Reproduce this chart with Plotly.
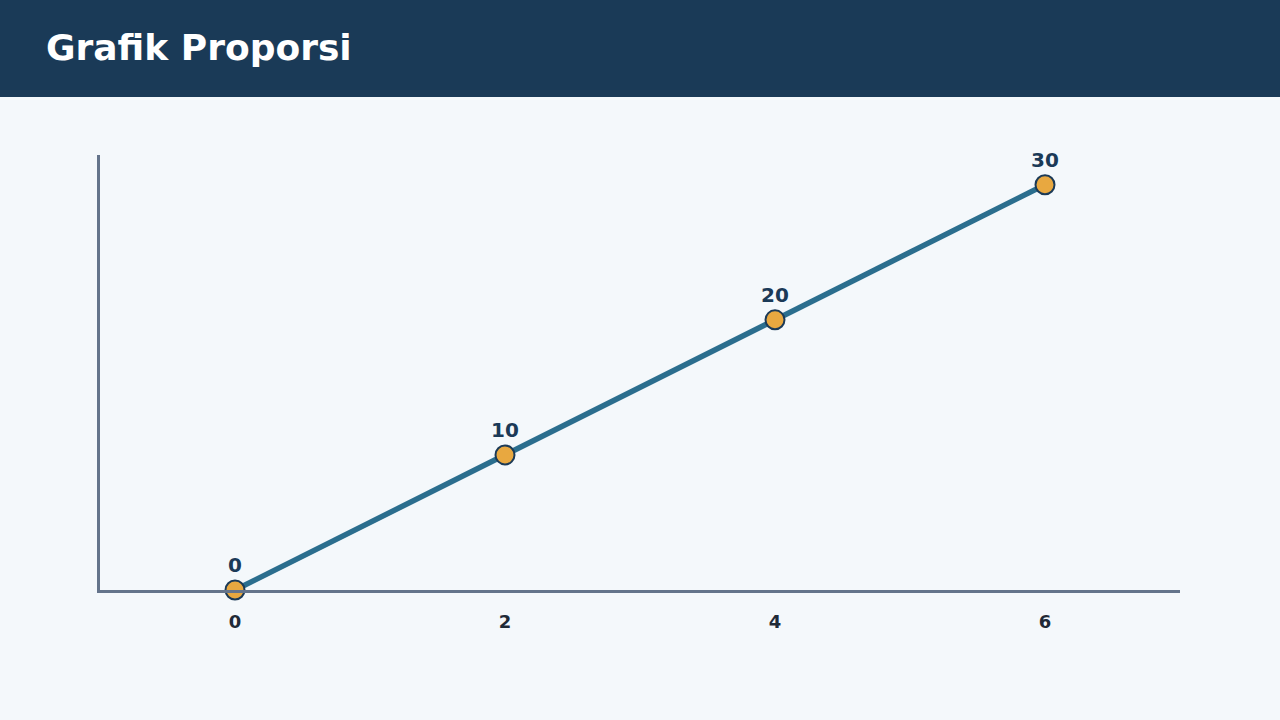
import plotly.graph_objects as go

x_vals = [0, 2, 4, 6]
y_vals = [0, 10, 20, 30]
labels = ["0", "10", "20", "30"]
title_text = "Grafik Proporsi"

fig = go.Figure()
fig.add_trace(go.Scatter(
    x=x_vals, y=y_vals, mode="lines+markers+text",
    text=labels, textposition="top center",
    textfont=dict(family="DejaVu Sans", size=20, color="#1b3a57", weight="bold"),
    line=dict(color="#2b6e8e", width=5.5),
    marker=dict(size=19, color="#e8a840", line=dict(color="#1b3a57", width=2)),
    cliponaxis=False, showlegend=False,
))

fig.add_shape(type="rect", xref="paper", yref="paper", x0=-0.2, x1=1.2,
              y0=(590 - 97) / 435, y1=(590 + 5) / 435,
              fillcolor="#1a3a57", line_width=0, layer="below")

fig.update_layout(
    width=1280, height=720,
    margin=dict(l=100, r=100, t=155, b=130),
    paper_bgcolor="#f4f8fb", plot_bgcolor="#f4f8fb",
    font=dict(family="DejaVu Sans"),
    title=dict(text="<b>" + title_text + "</b>", x=46/1280, xanchor="left",
               y=1 - 47/720, yanchor="middle",
               font=dict(family="DejaVu Sans", size=36, color="white")),
    xaxis=dict(range=[-1, 7], tickvals=x_vals, ticktext=[str(v) for v in x_vals],
               showgrid=False, zeroline=False, showline=True, linecolor="#64748b",
               linewidth=3, ticks="", ticklabelstandoff=13,
               tickfont=dict(family="DejaVu Sans", size=18, color="#1f2a37", weight="bold")),
    yaxis=dict(range=[0, 32.2], showgrid=False, zeroline=False, showline=True,
               linecolor="#64748b", linewidth=3, showticklabels=False, ticks=""),
)

fig.write_html("out.html", config={"displayModeBar": False},
               post_script="document.body.style.margin='0';")
